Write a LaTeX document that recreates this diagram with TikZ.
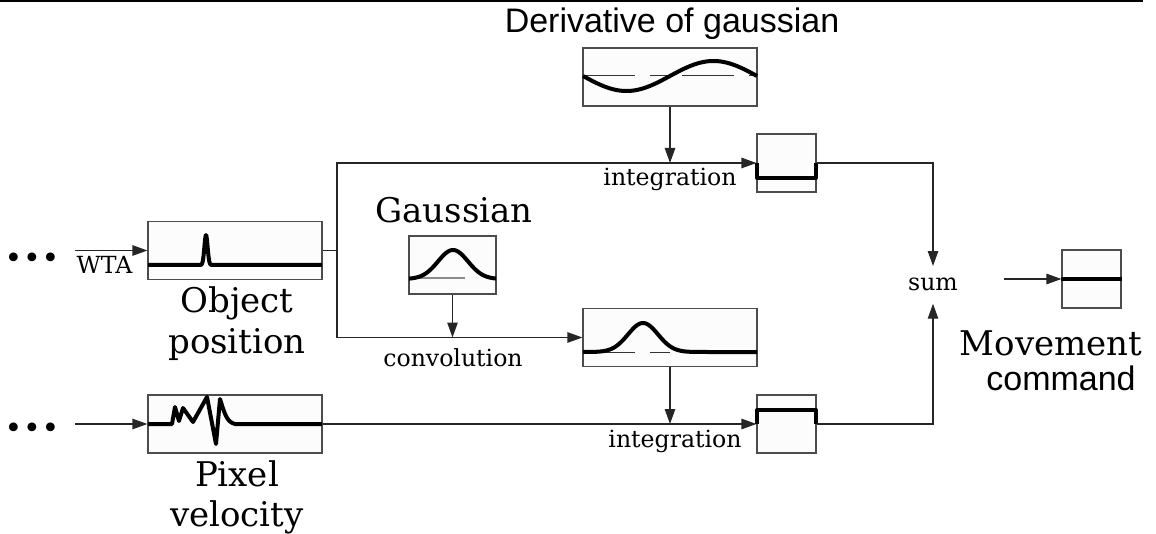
\documentclass[tikz,border=0pt]{standalone}
\usepackage{fontspec}
\setmainfont{DejaVu Serif}
\setsansfont{Liberation Sans}
\usetikzlibrary{arrows.meta}

\begin{document}
\begin{tikzpicture}[
    x=0.5pt, y=-0.5pt,
    panel/.style={draw=black!70, fill=black!1, line width=0.55pt, inner sep=0pt},
    wide/.style={panel, minimum width=87pt, minimum height=29pt},
    gbox/.style={panel, minimum width=43.5pt, minimum height=29pt},
    small/.style={panel, minimum width=29.5pt, minimum height=29pt},
    big/.style={font=\fontsize{17}{20}\selectfont, inner sep=0pt, anchor=base},
    bigsans/.style={font=\fontsize{17}{20}\selectfont\sffamily, inner sep=0pt, anchor=base},
    lbl/.style={font=\fontsize{11.8}{14}\selectfont, inner sep=0pt, anchor=base},
    dots/.style={font=\fontsize{15}{18}\selectfont, inner sep=0pt},
    arrow/.style={-{Triangle[length=7.5pt, width=5.2pt]}, line width=0.7pt, black!85},
    wire/.style={line width=0.7pt, black!85},
    signal/.style={line width=2pt, line join=round},
    axis/.style={line width=0.5pt, black!80},
    trace/.style={line width=0.7pt, black!45}
]
\useasboundingbox (0,0) rectangle (1156,534);
\draw[line width=1pt] (0,1) -- (1143,1);

% boxes
\node[wide] (dog) at (670,77) {};
\node[gbox] (gauss) at (452.5,265) {};
\node[wide] (obj) at (235,250.5) {};
\node[wide] (conv) at (670,337.5) {};
\node[wide] (pix) at (235,424) {};
\node[small] (intA) at (786.5,163) {};
\node[small] (intB) at (786.5,424) {};
\node[small] (move) at (1091.5,279) {};

% titles
\node[bigsans] (dogtitle) at (672,33) {Derivative of gaussian};
\node[big] (gausstitle) at (454,223) {Gaussian};
\node[big] (objtitle) at (237,313) {Object};
\node[big] (objtitleb) at (237,353) {position};
\node[big] (pixtitle) at (237,486) {Pixel};
\node[big] (pixtitleb) at (237,526) {velocity};
\node[big] (movetitle) at (1051,355) {Movement};
\node[bigsans] (movetitleb) at (1061,390) {command};

% small labels
\node[lbl] (wta) at (104.5,273) {WTA};
\node[lbl] (integA) at (670,186) {integration};
\node[lbl] (integB) at (675,447) {integration};
\node[lbl] (convlbl) at (453,366) {convolution};
\node[lbl, inner ysep=6pt] (sum) at (933,291) {sum};
\node[dots] (dotsA) at (32,261) {•\kern0.4pt•\kern0.4pt•};
\node[dots] (dotsB) at (32,431) {•\kern0.4pt•\kern0.4pt•};

% signals
\draw[axis, dash pattern=on 26pt off 7.5pt on 10pt off 6pt] (583,76) -- (757,76);
\draw[signal] plot[domain=583:757, samples=120] (\x, {76+15*sin(2.0690*(\x-583))});
\draw[trace] (409,278) -- (465,278);
\draw[signal] plot[domain=409:496, samples=100] (\x, {279-29*exp(-((\x-453)/15)^2/2)});
\draw[signal] (148,265) -- (198,265)
  -- plot[domain=198:214, samples=60] (\x, {265-30*exp(-((\x-206)/1.6)^2/2)})
  -- (322,265);
\draw[axis, dash pattern=on 26pt off 7.5pt on 10pt off 6pt] (583,352) -- (757,352);
\draw[signal] (583,352)
  -- plot[domain=585:720, samples=120] (\x, {352-29*exp(-((\x-643)/15)^2/2)})
  -- (757,352);
\draw[signal] (148,424) -- (172,424) -- (175,407) -- (179,421) -- (183,408)
  -- (193,422) -- (207,397) -- (216,444) -- (220,399)
  .. controls (225,415) and (227,422) .. (235,424) -- (322,424);
\draw[signal] (757,163) -- (757,178) -- (816,178) -- (816,163);
\draw[signal] (757,424) -- (757,410) -- (816,410) -- (816,424);
\draw[signal] (move.west) -- (move.east);

% connectors
\coordinate (wtain) at (75,250.5);
\coordinate (pixin) at (75,424);
\coordinate (tap) at (337,250.5);
\coordinate (movin) at (1004,279);
\draw[arrow] (wtain) -- (obj);
\draw[wire] (obj) -- (tap);
\draw[arrow] (tap) |- (intA);
\draw[arrow] (tap) |- (conv);
\draw[arrow] (gauss) -- (gauss |- conv);
\draw[arrow] (dog) -- (dog |- intA);
\draw[arrow] (conv) -- (conv |- intB);
\draw[arrow] (pixin) -- (pix);
\draw[arrow] (pix) -- (intB);
\draw[arrow] (intA) -| (sum);
\draw[arrow] (intB) -| (sum);
\draw[arrow] (movin) -- (move);
\end{tikzpicture}
\end{document}
